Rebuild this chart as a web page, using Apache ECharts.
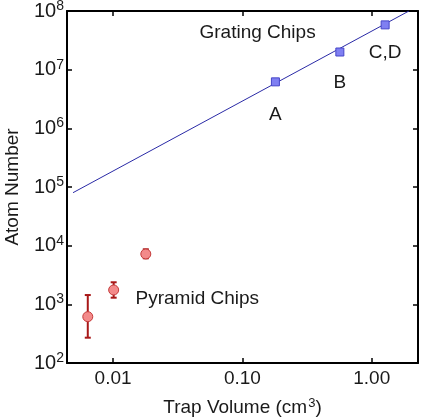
<!DOCTYPE html>
<html>
<head>
<meta charset="utf-8">
<script src="https://cdn.jsdelivr.net/npm/echarts@6/dist/echarts.min.js"></script>
<style>
  html, body { margin: 0; padding: 0; background: #fff; }
  #chart { width: 429px; height: 420px; }
</style>
</head>
<body>
<div id="chart"></div>
<script>
// grating chips (squares) and the fitted line
var gratingNames = ['A', 'B', 'C,D'];
var gratingVolume = [0.18, 0.567, 1.27];
var gratingAtoms = [6.2e6, 2.0e7, 5.8e7];
var fitVolume = [0.0049, 1.94];
var fitAtoms = [8.0e4, 1.0e8];

// pyramid chips (circles with error bars)
var pyramidVolume = [0.00637, 0.0101, 0.0179];
var pyramidAtoms = [616, 1757, 7210];
var pyramidLow = [270, 1298, 6100];
var pyramidHigh = [1440, 2377, 8670];

// free text in the plot
var noteText = ['Grating Chips', 'Pyramid Chips'];
var noteVolume = [0.131, 0.0448];
var noteAtoms = [4.2e7, 1233];

var xMin = 0.0044, xMax = 2.28;
var yMin = 1e2, yMax = 1e8;

var font = 'Liberation Sans, Arial, sans-serif';

function isPow10(v) {
  var l = Math.log10(v);
  return Math.abs(l - Math.round(l)) < 1e-6;
}

var myChart = echarts.init(document.getElementById('chart'));

var axisCommon = {
  type: 'log',
  logBase: 10,
  axisLine: { show: true, onZero: false, lineStyle: { color: '#000', width: 2 } },
  axisTick: { show: true, inside: true, length: 5, lineStyle: { color: '#000', width: 1.5 } },
  splitLine: { show: false },
  minorTick: { show: false }
};

myChart.setOption({
  animation: false,
  grid: { left: 67, right: 11, top: 11, bottom: 57, containLabel: false, outerBoundsMode: 'none' },
  xAxis: [
    Object.assign({}, axisCommon, {
      min: xMin, max: xMax, position: 'bottom',
      name: '{n|Trap Volume (cm}{s|3}{n|)}',
      nameLocation: 'middle', nameGap: 34,
      nameTextStyle: {
        rich: {
          n: { fontFamily: font, fontSize: 19, color: '#1a1a1a' },
          s: { fontFamily: font, fontSize: 13, color: '#1a1a1a', verticalAlign: 'top', padding: [0, 0, 8, 1] }
        }
      },
      axisLabel: {
        fontFamily: font, fontSize: 19, color: '#1a1a1a', margin: 6,
        showMinLabel: false, showMaxLabel: false,
        formatter: function (v) { return isPow10(v) ? v.toFixed(2) : ''; }
      }
    }),
    Object.assign({}, axisCommon, {
      min: xMin, max: xMax, position: 'top',
      axisLabel: { show: false }
    })
  ],
  yAxis: [
    Object.assign({}, axisCommon, {
      min: yMin, max: yMax, position: 'left',
      name: 'Atom Number', nameLocation: 'middle', nameGap: 45, nameRotate: 90,
      nameTextStyle: { fontFamily: font, fontSize: 19, color: '#1a1a1a' },
      axisLabel: {
        margin: 3, color: '#1a1a1a',
        formatter: function (v) {
          return isPow10(v) ? '{b|10}{s|' + Math.round(Math.log10(v)) + '}' : '';
        },
        rich: {
          b: { fontFamily: font, fontSize: 20, color: '#1a1a1a' },
          s: { fontFamily: font, fontSize: 14, color: '#1a1a1a', verticalAlign: 'top', padding: [0, 0, 10, 0] }
        }
      }
    }),
    Object.assign({}, axisCommon, {
      min: yMin, max: yMax, position: 'right',
      axisLabel: { show: false }
    })
  ],
  series: [
    {
      type: 'line',
      data: fitVolume.map(function (v, i) { return [v, fitAtoms[i]]; }),
      symbol: 'none',
      lineStyle: { color: '#2a2aa6', width: 1 },
      clip: true,
      z: 2
    },
    {
      type: 'scatter',
      data: gratingVolume.map(function (v, i) {
        return { value: [v, gratingAtoms[i]], name: gratingNames[i],
          label: { offset: [0, [33, 31, 28][i]] } };
      }),
      symbol: 'rect',
      symbolSize: 8,
      itemStyle: { color: '#7f7ff2', borderColor: '#4646c8', borderWidth: 1, opacity: 1 },
      label: {
        show: true, position: 'inside', formatter: '{b}',
        fontFamily: font, fontSize: 19, color: '#1a1a1a'
      },
      z: 3
    },
    {
      type: 'custom',
      data: pyramidVolume.map(function (v, i) { return [v, pyramidLow[i], pyramidHigh[i]]; }),
      renderItem: function (params, api) {
        var lo = api.coord([api.value(0), api.value(1)]);
        var hi = api.coord([api.value(0), api.value(2)]);
        var w = 3;
        var st = { stroke: '#a81818', lineWidth: 2 };
        return {
          type: 'group',
          children: [
            { type: 'line', shape: { x1: lo[0], y1: lo[1], x2: hi[0], y2: hi[1] }, style: st },
            { type: 'line', shape: { x1: lo[0] - w, y1: lo[1], x2: lo[0] + w, y2: lo[1] }, style: st },
            { type: 'line', shape: { x1: hi[0] - w, y1: hi[1], x2: hi[0] + w, y2: hi[1] }, style: st }
          ]
        };
      },
      z: 3
    },
    {
      type: 'scatter',
      data: pyramidVolume.map(function (v, i) { return [v, pyramidAtoms[i]]; }),
      symbol: 'circle',
      symbolSize: 10,
      itemStyle: { color: '#f38a8a', borderColor: '#c43a3a', borderWidth: 1, opacity: 1 },
      z: 4
    },
    {
      type: 'scatter',
      data: noteVolume.map(function (v, i) { return { value: [v, noteAtoms[i]], name: noteText[i] }; }),
      symbolSize: 0,
      itemStyle: { opacity: 1 },
      label: {
        show: true, position: 'inside', formatter: '{b}',
        fontFamily: font, fontSize: 19, color: '#1a1a1a', opacity: 1
      },
      silent: true,
      z: 5
    }
  ]
});
</script>
</body>
</html>
